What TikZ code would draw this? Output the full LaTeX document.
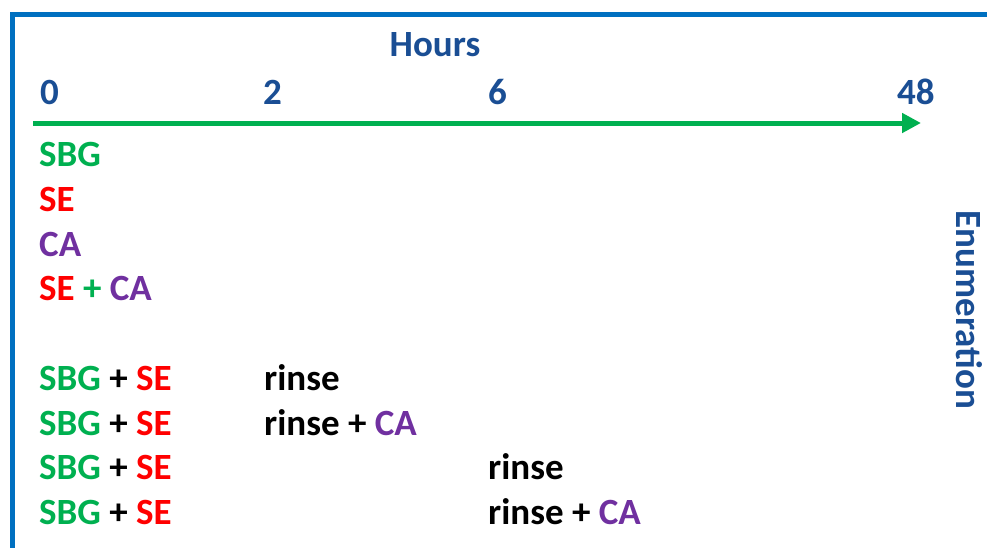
\documentclass[tikz,border=0pt]{standalone}
\usepackage{fontspec}
\setmainfont{Carlito}
\usetikzlibrary{arrows.meta}
\definecolor{frameblue}{RGB}{0,112,192}
\definecolor{textblue}{RGB}{26,78,148}
\definecolor{sbggreen}{RGB}{0,176,80}
\definecolor{sered}{RGB}{255,0,0}
\definecolor{capurple}{RGB}{112,48,160}
\begin{document}
\begin{tikzpicture}[x=1pt,y=-1pt]
		\tikzset{lbl/.style = {inner sep=0pt, anchor=base west, font=\fontsize{37}{40}\bfseries},
			tick/.style = {lbl, text=textblue},
			timeline/.style = {draw=sbggreen, line width=5pt, -{Triangle[length=19pt,width=19pt]}}}

		\useasboundingbox (0,0) rectangle (987,547);
		\clip (0,0) rectangle (987,547);
		\draw[frameblue, line width=4.5pt] (12.5,14.5) rectangle (1000,560);

		\node[tick, anchor=base] (H) at (435,56) {Hours};
		\node[tick] (t_0) at (40,104) {0};
		\node[tick] (t_2) at (263,104) {2};
		\node[tick] (t_6) at (488,104) {6};
		\node[tick] (t_48) at (897,104) {48};

		\coordinate (T_s) at (33,123);
		\coordinate (T_e) at (921,123);
		\draw[timeline] (T_s) -- (T_e);

		\node[tick, anchor=center, rotate=-90] (E) at (969,310) {Enumeration};

		\node[lbl, text=sbggreen] (R_1) at (39,166) {SBG};
		\node[lbl, text=sered] (R_2) at (39,211) {SE};
		\node[lbl, text=capurple] (R_3) at (39,256) {CA};
		\node[lbl] (R_4) at (39,300) {\color{sered}SE \color{sbggreen}+ \color{capurple}CA};

		\node[lbl] (R_5) at (39,390) {\color{sbggreen}SBG \color{black}+ \color{sered}SE};
		\node[lbl] (R_6) at (39,435) {\color{sbggreen}SBG \color{black}+ \color{sered}SE};
		\node[lbl] (R_7) at (39,479) {\color{sbggreen}SBG \color{black}+ \color{sered}SE};
		\node[lbl] (R_8) at (39,524) {\color{sbggreen}SBG \color{black}+ \color{sered}SE};

		\node[lbl] (S_5) at (264,390) {rinse};
		\node[lbl] (S_6) at (264,435) {rinse + \color{capurple}CA};
		\node[lbl] (S_7) at (488,479) {rinse};
		\node[lbl] (S_8) at (488,524) {rinse + \color{capurple}CA};

	\end{tikzpicture}
\end{document}
